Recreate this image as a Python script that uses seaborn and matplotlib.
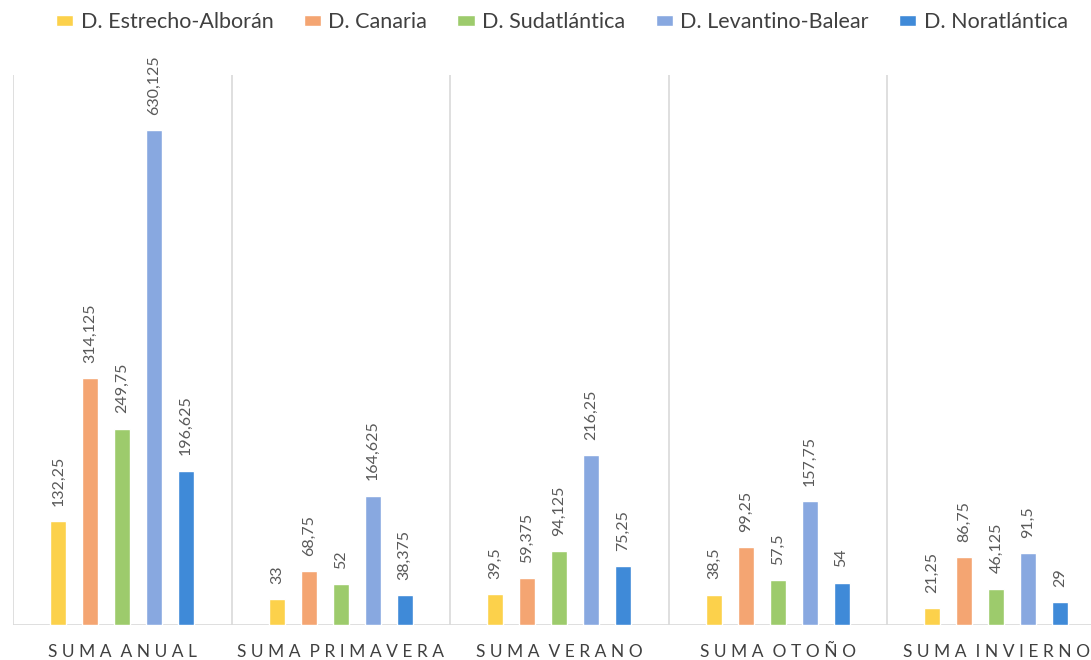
import matplotlib
matplotlib.use("Agg")
import matplotlib.pyplot as plt
import seaborn as sns
import pandas as pd

grupos = ["SUMA ANUAL", "SUMA PRIMAVERA", "SUMA VERANO", "SUMA OTOÑO", "SUMA INVIERNO"]
demarcaciones = ["D. Estrecho-Alborán", "D. Canaria", "D. Sudatlántica",
                 "D. Levantino-Balear", "D. Noratlántica"]
estrecho = [132.25, 33, 39.5, 38.5, 21.25]
canaria = [314.125, 68.75, 59.375, 99.25, 86.75]
sudatlantica = [249.75, 52, 94.125, 57.5, 46.125]
levantino = [630.125, 164.625, 216.25, 157.75, 91.5]
noratlantica = [196.625, 38.375, 75.25, 54, 29]
colores = ["#FCD14B", "#F4A572", "#9DCB6C", "#88A8E0", "#3F8AD8"]

series = [estrecho, canaria, sudatlantica, levantino, noratlantica]
rows = []
for nombre, vals in zip(demarcaciones, series):
    for g, v in zip(grupos, vals):
        rows.append({"grupo": g, "demarcacion": nombre, "valor": v})
df = pd.DataFrame(rows)

sns.set_theme(style="white")
plt.rcParams["font.family"] = ["Lato", "DejaVu Sans"]

W, H = 1091, 660
fig = plt.figure(figsize=(W / 100, H / 100), dpi=100)
base_y = 625
top_y = 75
left_x = 13
group_w = 218.5
ax = fig.add_axes([left_x / W, (H - base_y) / H, 5 * group_w / W, (base_y - top_y) / H])

sns.barplot(data=df, x="grupo", y="valor", hue="demarcacion", order=grupos,
            hue_order=demarcaciones, palette=colores, width=0.73, gap=0.5,
            saturation=1, ax=ax, legend=True)

ax.set_ylim(0, 700)
ax.set_xlim(-0.5, 4.5)
for i in range(6):
    ax.axvline(-0.5 + i, color="#D9D9D9", lw=1.2, zorder=0)
ax.axhline(0, color="#D9D9D9", lw=1.2, zorder=0)

for cont in ax.containers:
    labs = [f"{b.get_height():g}".replace(".", ",") for b in cont]
    ax.bar_label(cont, labels=labs, rotation=90, padding=11, fontsize=11.5, color="#595959")

sns.despine(ax=ax, left=True, bottom=True)
ax.set_xlabel("")
ax.set_ylabel("")
ax.set_yticks([])
ax.set_xticks(range(len(grupos)))
ax.set_xticklabels([" ".join(g).replace("   ", "  ") for g in grupos],
                   fontsize=12.5, color="#404040")
ax.tick_params(axis="x", length=0, pad=14)

handles, labels = ax.get_legend_handles_labels()
ax.get_legend().remove()
fig.legend(handles, labels, loc="center", bbox_to_anchor=(0.515, 1 - 22 / H),
           ncol=5, frameon=False, fontsize=15.5, handlelength=0.8, handleheight=0.4,
           handletextpad=0.35, columnspacing=1.4, labelcolor="#404040")

fig.savefig("out.png", dpi=100)
